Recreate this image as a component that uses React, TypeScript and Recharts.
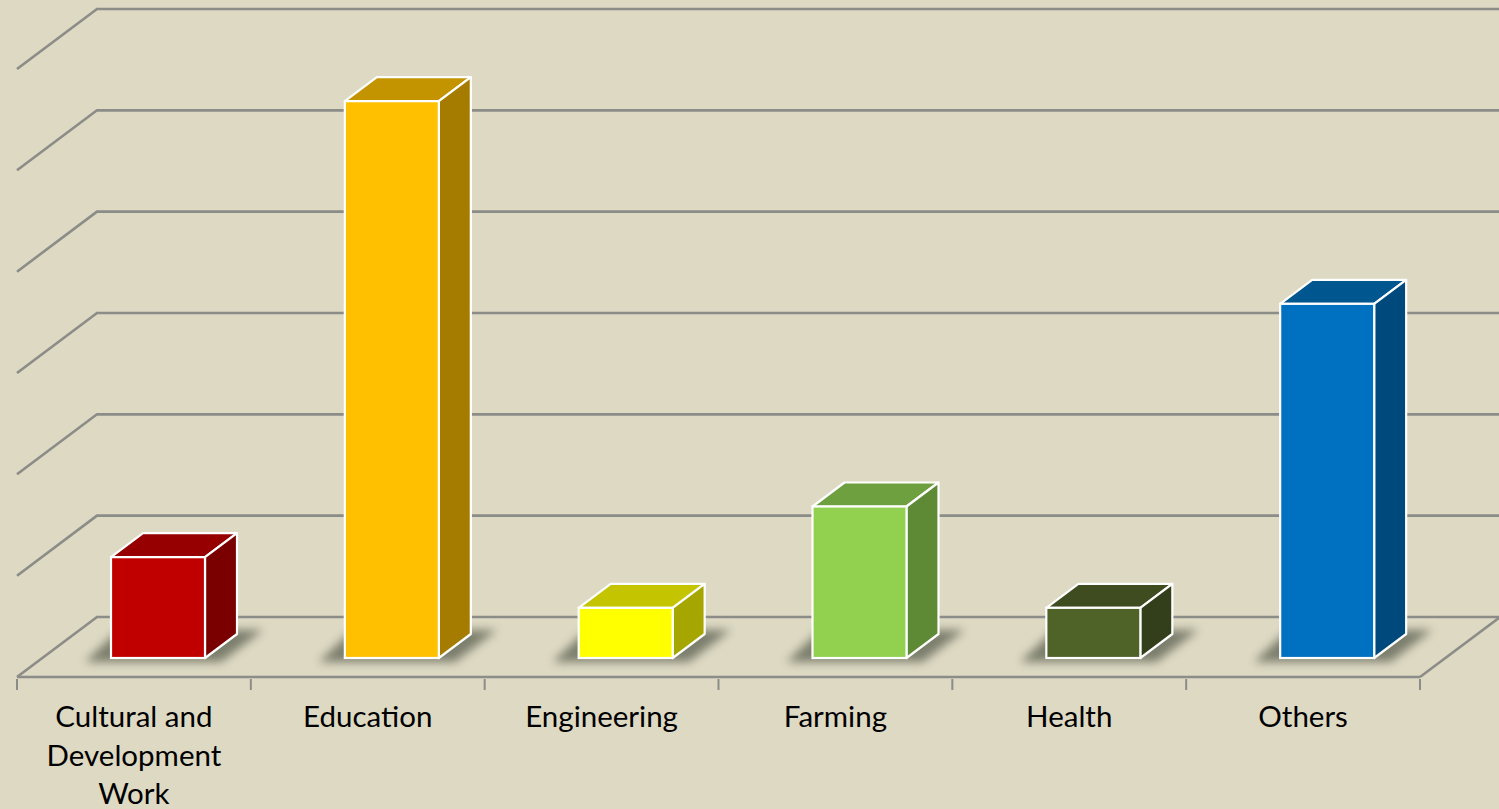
import React from "react";
import { BarChart, Bar, XAxis, YAxis, CartesianGrid } from "recharts";

const categories = ["Cultural and Development Work", "Education", "Engineering", "Farming", "Health", "Others"];
const labelLines = [["Cultural and", "Development", "Work"], ["Education"], ["Engineering"], ["Farming"], ["Health"], ["Others"]];
const values = [1, 5.5, 0.5, 1.5, 0.5, 3.5];
const yTicks = [0, 1, 2, 3, 4, 5, 6];
const frontColors = ["#C00000", "#FFC000", "#FFFF00", "#92D050", "#4F6228", "#0070C0"];
const topColors = ["#960000", "#C49400", "#C4C400", "#6FA03F", "#3E4C1F", "#00568F"];
const sideColors = ["#7A0000", "#A67C00", "#A6A600", "#5F8A35", "#333F1A", "#00497D"];

const rows = categories.map((name, i) => ({ name, value: values[i] }));

const W = 1499;
const H = 809;
const AXIS_H = 132;
const M = { top: 69, left: 17, right: 79, bottom: 0 };
const BAND = (W - M.left - M.right) / categories.length;
const GRID = "#8C8C88";
const BG = "#DDD9C3";
const FLOOR_DX = 80;
const FLOOR_DY = -60;
const BAR_SHIFT_X = 24;
const BAR_SHIFT_Y = -18.5;
const DX = 32;
const DY = -24;

function GridLine(props: any) {
  const { x1, x2, y1 } = props;
  const isFloor = Math.abs(y1 - (H - AXIS_H)) < 1;
  return (
    <g>
      <polyline
        points={`${x1},${y1} ${x1 + FLOOR_DX},${y1 + FLOOR_DY} ${W},${y1 + FLOOR_DY}`}
        fill="none"
        stroke={GRID}
        strokeWidth={2.6}
      />
      {isFloor && (
        <line x1={x2} y1={y1} x2={x2 + FLOOR_DX} y2={y1 + FLOOR_DY} stroke={GRID} strokeWidth={2.6} />
      )}
    </g>
  );
}

function Box3D(props: any) {
  const { x, y, width, height, index } = props;
  const l = x + BAR_SHIFT_X;
  const r = l + width;
  const t = y + BAR_SHIFT_Y;
  const b = y + height - 19;
  return (
    <g>
      <polygon
        points={`${l - 26},${b + 4} ${l + 8},${b - 28} ${r + 58},${b - 28} ${r + 16},${b + 4}`}
        fill="#5C6050"
        opacity={0.75}
        style={{ filter: "blur(5px)" }}
      />
      <polygon
        points={`${l},${t} ${l + DX},${t + DY} ${r + DX},${t + DY} ${r},${t}`}
        fill={topColors[index]}
        stroke="#FFFFFF"
        strokeWidth={2.2}
        strokeLinejoin="round"
      />
      <polygon
        points={`${r},${t} ${r + DX},${t + DY} ${r + DX},${b + DY} ${r},${b}`}
        fill={sideColors[index]}
        stroke="#FFFFFF"
        strokeWidth={2.2}
        strokeLinejoin="round"
      />
      <rect x={l} y={t} width={width} height={b - t} fill={frontColors[index]} stroke="#FFFFFF" strokeWidth={2.2} />
    </g>
  );
}

function CategoryTick(props: any) {
  const { x, y, index } = props;
  const lines = labelLines[index] || [];
  const left = x - BAND / 2;
  return (
    <g>
      <line x1={left} y1={y} x2={left} y2={y + 11} stroke={GRID} strokeWidth={2} />
      {index === categories.length - 1 && (
        <line x1={left + BAND} y1={y} x2={left + BAND} y2={y + 11} stroke={GRID} strokeWidth={2} />
      )}
      <text x={x} textAnchor="middle" fontFamily="Lato, sans-serif" fontSize={29.5} fill="#000000">
        {lines.map((ln, i) => (
          <tspan key={i} x={x} y={y + 48 + i * 38.5}>
            {ln}
          </tspan>
        ))}
      </text>
    </g>
  );
}

export default function App() {
  return (
    <div style={{ position: "fixed", left: 0, top: 0, width: W, height: H, background: BG, overflow: "hidden" }}>
      <BarChart width={W} height={H} data={rows} margin={M}>
        <CartesianGrid vertical={false} horizontal={(p: any) => <GridLine {...p} />} />
        <XAxis
          dataKey="name"
          interval={0}
          height={AXIS_H}
          tickSize={0}
          tick={(p: any) => <CategoryTick {...p} />}
          tickLine={false}
          axisLine={{ stroke: GRID, strokeWidth: 2.6 }}
        />
        <YAxis hide domain={[0, 6]} ticks={yTicks} width={0} />
        <Bar dataKey="value" barSize={94} isAnimationActive={false} shape={(p: any) => <Box3D {...p} />} />
      </BarChart>
    </div>
  );
}
